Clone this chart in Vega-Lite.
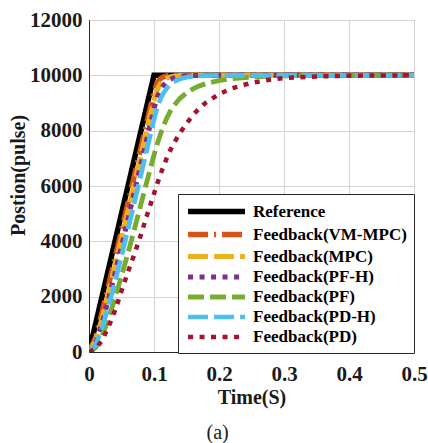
{
  "$schema": "https://vega.github.io/schema/vega-lite/v6.json",
  "width": 325,
  "height": 332,
  "autosize": {"type": "none"},
  "padding": {"left": 89, "top": 20, "right": 14, "bottom": 91},
  "background": "white",
  "config": {
    "view": {"stroke": "#262626", "strokeWidth": 1},
    "axis": {
      "grid": true, "gridColor": "#d4d4d4", "gridWidth": 1,
      "domainColor": "#262626", "ticks": false, "tickSize": 0,
      "labelFont": "Liberation Serif", "labelFontWeight": "bold", "labelFontSize": 21, "labelColor": "#1a1a1a",
      "titleFont": "Liberation Serif", "titleFontWeight": "bold", "titleFontSize": 20, "titleColor": "#1a1a1a"
    }
  },
  "title": {"text": "(a)", "orient": "bottom", "anchor": "middle", "frame": "bounds", "font": "Liberation Serif", "fontWeight": "normal", "fontSize": 20, "color": "#1a1a1a", "offset": 16},
  "data": {"values": [
    {"t": 0, "ref": 0, "vm": 0, "mpc": 0, "pfh": 0, "pf": 0, "pdh": 0, "pd": 0},
    {"t": 0.01, "ref": 1000, "vm": 513, "mpc": 396, "pfh": 322, "pf": 150, "pdh": 256, "pd": 110},
    {"t": 0.02, "ref": 2000, "vm": 1421, "mpc": 1197, "pfh": 1027, "pf": 570, "pdh": 858, "pd": 420},
    {"t": 0.03, "ref": 3000, "vm": 2404, "mpc": 2132, "pfh": 1899, "pf": 1200, "pdh": 1645, "pd": 900},
    {"t": 0.04, "ref": 4000, "vm": 3400, "mpc": 3111, "pfh": 2843, "pf": 1950, "pdh": 2531, "pd": 1500},
    {"t": 0.05, "ref": 5000, "vm": 4400, "mpc": 4104, "pfh": 3819, "pf": 2750, "pdh": 3470, "pd": 2200},
    {"t": 0.06, "ref": 6000, "vm": 5400, "mpc": 5101, "pfh": 4808, "pf": 3580, "pdh": 4438, "pd": 2900},
    {"t": 0.07, "ref": 7000, "vm": 6400, "mpc": 6100, "pfh": 5803, "pf": 4450, "pdh": 5420, "pd": 3550},
    {"t": 0.08, "ref": 8000, "vm": 7400, "mpc": 7100, "pfh": 6801, "pf": 5350, "pdh": 6411, "pd": 4250},
    {"t": 0.09, "ref": 9000, "vm": 8400, "mpc": 8100, "pfh": 7800, "pf": 6250, "pdh": 7406, "pd": 5000},
    {"t": 0.1, "ref": 10000, "vm": 9400, "mpc": 9100, "pfh": 8800, "pf": 7120, "pdh": 8403, "pd": 5720},
    {"t": 0.105, "ref": 10000, "vm": 9739, "mpc": 9483, "pfh": 9209, "pf": 7520, "pdh": 8832, "pd": 6080},
    {"t": 0.11, "ref": 10000, "vm": 9887, "mpc": 9704, "pfh": 9478, "pf": 7880, "pdh": 9145, "pd": 6420},
    {"t": 0.115, "ref": 10000, "vm": 9951, "mpc": 9830, "pfh": 9656, "pf": 8200, "pdh": 9375, "pd": 6740},
    {"t": 0.12, "ref": 10000, "vm": 9979, "mpc": 9903, "pfh": 9773, "pf": 8470, "pdh": 9542, "pd": 7030},
    {"t": 0.125, "ref": 10000, "vm": 9991, "mpc": 9944, "pfh": 9851, "pf": 8700, "pdh": 9665, "pd": 7290},
    {"t": 0.13, "ref": 10000, "vm": 9996, "mpc": 9968, "pfh": 9901, "pf": 8890, "pdh": 9755, "pd": 7520},
    {"t": 0.14, "ref": 10000, "vm": 10000, "mpc": 9989, "pfh": 9957, "pf": 9170, "pdh": 9869, "pd": 7920},
    {"t": 0.15, "ref": 10000, "vm": 10000, "mpc": 9996, "pfh": 9981, "pf": 9370, "pdh": 9930, "pd": 8260},
    {"t": 0.16, "ref": 10000, "vm": 10000, "mpc": 9999, "pfh": 9992, "pf": 9510, "pdh": 9962, "pd": 8560},
    {"t": 0.17, "ref": 10000, "vm": 10000, "mpc": 10000, "pfh": 9997, "pf": 9620, "pdh": 9980, "pd": 8820},
    {"t": 0.18, "ref": 10000, "vm": 10000, "mpc": 10000, "pfh": 9999, "pf": 9700, "pdh": 9989, "pd": 9020},
    {"t": 0.2, "ref": 10000, "vm": 10000, "mpc": 10000, "pfh": 10000, "pf": 9810, "pdh": 9997, "pd": 9320},
    {"t": 0.22, "ref": 10000, "vm": 10000, "mpc": 10000, "pfh": 10000, "pf": 9880, "pdh": 9999, "pd": 9530},
    {"t": 0.25, "ref": 10000, "vm": 10000, "mpc": 10000, "pfh": 10000, "pf": 9940, "pdh": 10000, "pd": 9730},
    {"t": 0.28, "ref": 10000, "vm": 10000, "mpc": 10000, "pfh": 10000, "pf": 9970, "pdh": 10000, "pd": 9850},
    {"t": 0.3, "ref": 10000, "vm": 10000, "mpc": 10000, "pfh": 10000, "pf": 9982, "pdh": 10000, "pd": 9900},
    {"t": 0.35, "ref": 10000, "vm": 10000, "mpc": 10000, "pfh": 10000, "pf": 9995, "pdh": 10000, "pd": 9960},
    {"t": 0.4, "ref": 10000, "vm": 10000, "mpc": 10000, "pfh": 10000, "pf": 9999, "pdh": 10000, "pd": 9985},
    {"t": 0.45, "ref": 10000, "vm": 10000, "mpc": 10000, "pfh": 10000, "pf": 10000, "pdh": 10000, "pd": 9996},
    {"t": 0.5, "ref": 10000, "vm": 10000, "mpc": 10000, "pfh": 10000, "pf": 10000, "pdh": 10000, "pd": 10000}
  ]},
  "transform": [{"fold": ["ref", "vm", "mpc", "pfh", "pf", "pdh", "pd"], "as": ["s", "v"]}],
  "mark": {"type": "line", "interpolate": "linear", "strokeCap": "butt", "clip": true},
  "encoding": {
    "x": {"field": "t", "type": "quantitative", "scale": {"domain": [0, 0.5], "nice": false},
      "axis": {"title": "Time(S)", "values": [0, 0.1, 0.2, 0.3, 0.4, 0.5], "format": ".1~f", "labelPadding": 11, "labelFlush": false, "titleY": 45, "titleBaseline": "middle"}},
    "y": {"field": "v", "type": "quantitative", "scale": {"domain": [0, 12000], "nice": false},
      "axis": {"title": "Postion(pulse)", "values": [0, 2000, 4000, 6000, 8000, 10000, 12000], "format": "d", "labelPadding": 7, "labelFlush": false, "titleX": -71, "titleY": 155, "titleAngle": -90, "titleBaseline": "middle", "titleAlign": "center"}},
    "color": {"field": "s", "type": "nominal",
      "scale": {"domain": ["ref", "vm", "mpc", "pfh", "pf", "pdh", "pd"], "range": ["#000000", "#D95319", "#EDB120", "#7E2F8E", "#77AC30", "#4DBEEE", "#A2142F"]},
      "legend": {"orient": "none", "legendX": 89, "legendY": 174, "title": null,
        "labelFont": "Liberation Serif", "labelFontWeight": "bold", "labelFontSize": 17, "labelColor": "#000000", "labelLimit": 300,
        "symbolType": "M-1,0H6.65", "symbolSize": 222, "symbolStrokeWidth": 4,
        "fillColor": "white", "strokeColor": "#262626", "padding": 7, "rowPadding": 0, "labelOffset": 47,
        "labelExpr": "datum.label == 'ref' ? 'Reference' : datum.label == 'vm' ? 'Feedback(VM-MPC)' : datum.label == 'mpc' ? 'Feedback(MPC)' : datum.label == 'pfh' ? 'Feedback(PF-H)' : datum.label == 'pf' ? 'Feedback(PF)' : datum.label == 'pdh' ? 'Feedback(PD-H)' : 'Feedback(PD)'"}},
    "strokeDash": {"field": "s", "type": "nominal",
      "scale": {"domain": ["ref", "vm", "mpc", "pfh", "pf", "pdh", "pd"], "range": [[1, 0], [20, 6, 2, 6], [20, 6], [5, 6.5], [16, 6], [20, 6], [5, 6.5]]}},
    "strokeWidth": {"field": "s", "type": "nominal",
      "scale": {"domain": ["ref", "vm", "mpc", "pfh", "pf", "pdh", "pd"], "range": [5.5, 4.5, 4.5, 5, 4.5, 4.5, 5]}}
  }
}
